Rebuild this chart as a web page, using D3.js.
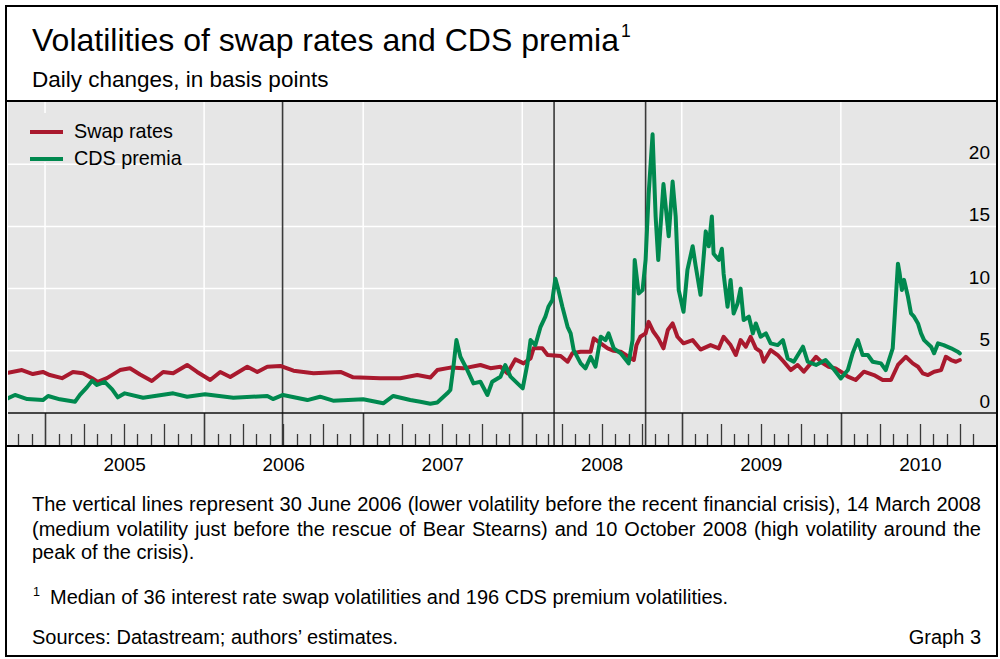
<!DOCTYPE html>
<html><head><meta charset="utf-8">
<script src="https://cdn.jsdelivr.net/npm/d3@7"></script>
<style>
body{margin:0;background:#fff}
svg{display:block}
text{font-family:"Liberation Sans",Arial,Helvetica,sans-serif;fill:#000}
</style>
</head><body>
<svg id="chart" width="1000" height="659"></svg>
<script>
// ---------------- DATA ----------------
const seriesNames = ["Swap rates", "CDS premia"];
const yTickValues = [0, 5, 10, 15, 20];
const yearLabels = [2005, 2006, 2007, 2008, 2009, 2010];
const eventDates = ["2006-06-30", "2008-03-14", "2008-10-10"];

const swapDates = ["2004-10-08","2004-11-09","2004-12-04","2004-12-27","2005-01-12","2005-02-09","2005-03-06","2005-03-29","2005-04-19","2005-05-02","2005-05-23","2005-06-22","2005-07-15","2005-08-07","2005-09-03","2005-09-29","2005-10-22","2005-11-23","2005-12-16","2006-01-15","2006-02-07","2006-03-02","2006-04-10","2006-05-03","2006-05-26","2006-06-25","2006-07-25","2006-09-09","2006-11-10","2006-12-09","2007-02-09","2007-03-27","2007-05-05","2007-06-04","2007-06-20","2007-07-20","2007-08-19","2007-09-27","2007-10-20","2007-11-12","2007-11-28","2007-12-16","2008-01-04","2008-01-20","2008-01-27","2008-02-16","2008-02-28","2008-03-29","2008-04-14","2008-04-25","2008-05-14","2008-06-06","2008-06-13","2008-06-29","2008-07-15","2008-07-29","2008-08-14","2008-09-06","2008-09-13","2008-09-19","2008-09-28","2008-10-10","2008-10-17","2008-10-28","2008-11-08","2008-11-20","2008-11-30","2008-12-11","2008-12-22","2009-01-05","2009-01-26","2009-02-13","2009-03-08","2009-03-27","2009-04-07","2009-04-23","2009-05-05","2009-05-16","2009-05-28","2009-06-08","2009-06-20","2009-07-01","2009-07-08","2009-07-24","2009-08-09","2009-08-23","2009-09-08","2009-09-24","2009-10-08","2009-10-24","2009-11-05","2009-11-21","2009-12-04","2009-12-20","2010-01-01","2010-01-17","2010-02-04","2010-02-23","2010-03-18","2010-04-07","2010-04-26","2010-05-12","2010-05-30","2010-06-15","2010-06-27","2010-07-08","2010-07-20","2010-08-03","2010-08-19","2010-08-30","2010-09-11","2010-09-22","2010-10-01"];
const swapValues = [3.24,3.45,3.13,3.3,3.05,2.8,3.3,3.2,2.8,2.5,2.8,3.45,3.6,3.1,2.57,3.3,3.2,3.86,3.3,2.65,3.3,2.9,3.72,3.3,3.72,3.78,3.4,3.2,3.3,2.87,2.8,2.8,3.05,2.85,3.45,3.65,3.59,3.86,3.6,3.72,3.19,4.31,3.99,4.39,5.2,5.2,4.66,4.58,4.12,4.8,4.93,4.93,6.0,5.6,5.2,5.0,4.93,4.4,4.26,5.46,6.13,6.4,7.33,6.53,6.0,5.2,6.67,7.2,6.13,5.6,5.86,5.1,5.46,5.2,6.13,5.46,4.66,5.86,5.33,6.13,5.2,4.93,4.12,5.06,4.66,4.12,3.45,3.86,3.32,3.99,4.52,3.99,3.72,3.59,3.32,2.92,2.65,3.32,3.05,2.65,2.65,3.86,4.52,3.99,3.72,3.19,3.05,3.32,3.45,4.52,4.26,4.12,4.26];

const cdsDates = ["2004-10-08","2004-10-24","2004-11-21","2004-12-27","2005-01-08","2005-02-04","2005-03-11","2005-03-22","2005-04-07","2005-04-19","2005-04-30","2005-05-18","2005-06-04","2005-06-17","2005-07-03","2005-08-14","2005-10-22","2005-11-23","2006-01-03","2006-03-09","2006-05-26","2006-06-08","2006-07-01","2006-08-26","2006-09-24","2006-10-24","2007-01-01","2007-02-16","2007-03-11","2007-04-19","2007-05-12","2007-06-04","2007-06-20","2007-07-13","2007-07-20","2007-07-27","2007-08-03","2007-08-12","2007-08-28","2007-09-11","2007-09-27","2007-10-13","2007-10-24","2007-11-12","2007-11-23","2007-12-05","2007-12-21","2008-01-02","2008-01-13","2008-01-20","2008-01-31","2008-02-12","2008-02-23","2008-03-01","2008-03-10","2008-03-17","2008-03-24","2008-04-02","2008-04-14","2008-04-21","2008-04-28","2008-05-14","2008-05-25","2008-06-06","2008-06-17","2008-06-29","2008-07-10","2008-07-17","2008-07-29","2008-08-14","2008-09-01","2008-09-10","2008-09-15","2008-09-24","2008-10-03","2008-10-10","2008-10-17","2008-10-26","2008-11-02","2008-11-08","2008-11-20","2008-12-02","2008-12-11","2008-12-18","2008-12-25","2009-01-05","2009-01-14","2009-01-26","2009-02-02","2009-02-13","2009-02-25","2009-03-04","2009-03-11","2009-03-15","2009-03-27","2009-04-03","2009-04-07","2009-04-16","2009-04-23","2009-04-30","2009-05-09","2009-05-16","2009-05-23","2009-06-04","2009-06-13","2009-06-20","2009-07-01","2009-07-13","2009-07-24","2009-08-09","2009-08-21","2009-09-01","2009-09-15","2009-10-06","2009-10-17","2009-11-05","2009-11-27","2009-12-14","2010-01-01","2010-01-17","2010-01-28","2010-02-09","2010-02-20","2010-03-04","2010-03-15","2010-04-03","2010-04-14","2010-04-30","2010-05-05","2010-05-12","2010-05-16","2010-05-21","2010-05-26","2010-06-04","2010-06-11","2010-06-18","2010-06-27","2010-07-04","2010-07-11","2010-07-27","2010-08-03","2010-08-12","2010-08-25","2010-09-11","2010-09-26","2010-10-01"];
const cdsValues = [1.18,1.45,1.12,1.04,1.37,1.1,0.91,1.45,2.06,2.6,2.25,2.5,1.9,1.26,1.58,1.23,1.58,1.31,1.5,1.23,1.37,1.12,1.45,1.04,1.31,0.99,1.1,0.78,1.37,1.04,0.91,0.75,0.85,1.58,1.85,3.72,5.86,4.52,3.45,2.38,2.51,1.45,2.51,2.92,3.86,2.92,2.38,1.98,3.99,5.86,5.46,6.93,7.74,8.54,9.08,10.8,9.88,8.54,6.93,6.4,5.06,3.99,3.59,4.52,3.72,6.13,5.86,6.4,5.2,4.8,3.99,5.86,12.3,9.6,9.88,12.3,17.6,22.4,15.8,12.3,18.4,14.2,18.6,15.8,9.88,8.14,11.5,13.4,11.8,9.5,14.6,13.4,15.8,12.8,12.3,13.2,11.2,8.54,10.7,8.0,8.8,10.0,7.47,7.74,6.4,7.2,6.13,6.4,5.6,5.46,5.86,4.39,4.12,5.33,4.12,3.86,4.26,3.59,2.78,3.45,4.8,5.86,4.66,4.66,4.12,3.99,3.45,5.2,8.0,12.0,11.2,9.88,10.7,9.34,8.0,7.74,7.2,6.4,5.86,5.33,4.8,5.6,5.46,5.2,4.93,4.8];

// ---------------- LAYOUT ----------------
const parse = d3.timeParse("%Y-%m-%d");
const svg = d3.select("#chart");
const W = 1000, H = 659;
const plotL = 8, plotR = 996, plotT = 102, axisY = 413, plotB = 446;
const colSwap = "#a9192e", colCds = "#00894f", bg = "#e6e6e6";

const x = d3.scaleTime().domain([parse("2004-10-08"), parse("2010-12-23")]).range([plotL, plotR]);
const y = d3.scaleLinear().domain([0, 25]).range([axisY, plotT]);

svg.append("rect").attr("width", W).attr("height", H).attr("fill", "#fff");
svg.append("rect").attr("x", plotL).attr("y", plotT).attr("width", plotR - plotL).attr("height", plotB - plotT).attr("fill", bg);

// horizontal grid
svg.append("g").selectAll("line").data(yTickValues.filter(d => d > 0)).join("line")
  .attr("x1", plotL).attr("x2", plotR).attr("y1", d => y(d)).attr("y2", d => y(d))
  .attr("stroke", "#fff").attr("stroke-width", 1.5);

// vertical grid at year starts
const yearStarts = yearLabels.map(yr => new Date(yr, 0, 1));
svg.append("g").selectAll("line").data(yearStarts).join("line")
  .attr("x1", d => x(d)).attr("x2", d => x(d)).attr("y1", plotT).attr("y2", axisY)
  .attr("stroke", "#fff").attr("stroke-width", 1.5);

// legend background
svg.append("rect").attr("x", plotL).attr("y", 113).attr("width", 185).attr("height", 49).attr("fill", bg);

// month ticks
const months = d3.timeMonth.range(new Date(2004, 10, 1), new Date(2010, 10, 2));
svg.append("g").selectAll("line").data(months).join("line")
  .attr("x1", d => Math.round(x(d)) + 0.5).attr("x2", d => Math.round(x(d)) + 0.5)
  .attr("y1", d => d.getMonth() === 0 ? axisY : (d.getMonth() % 3 === 0 ? 424 : 434))
  .attr("y2", plotB)
  .attr("stroke", "#3a3a3a").attr("stroke-width", d => d.getMonth() === 0 ? 1.6 : 1.3);

// event lines
svg.append("g").selectAll("line").data(eventDates.map(parse)).join("line")
  .attr("x1", d => x(d)).attr("x2", d => x(d)).attr("y1", plotT).attr("y2", plotB)
  .attr("stroke", "#3a3a3a").attr("stroke-width", 1.6);

// axis line
svg.append("line").attr("x1", plotL).attr("x2", plotR).attr("y1", axisY).attr("y2", axisY)
  .attr("stroke", "#111").attr("stroke-width", 1.6);

// clip
svg.append("clipPath").attr("id", "clip").append("rect")
  .attr("x", plotL).attr("y", plotT).attr("width", plotR - plotL).attr("height", axisY - plotT);

const line = d3.line().x(d => x(d[0])).y(d => y(d[1]));
const swapData = swapDates.map((d, i) => [parse(d), swapValues[i]]);
const cdsData = cdsDates.map((d, i) => [parse(d), cdsValues[i]]);
const lg = svg.append("g").attr("clip-path", "url(#clip)");
lg.append("path").datum(swapData).attr("d", line).attr("fill", "none")
  .attr("stroke", colSwap).attr("stroke-width", 4).attr("stroke-linejoin", "round").attr("stroke-linecap", "round");
lg.append("path").datum(cdsData).attr("d", line).attr("fill", "none")
  .attr("stroke", colCds).attr("stroke-width", 4).attr("stroke-linejoin", "round").attr("stroke-linecap", "round");

// legend
const legend = svg.append("g");
[[colSwap, 132, 138], [colCds, 159, 165]].forEach((c, i) => {
  legend.append("line").attr("x1", 30).attr("x2", 63).attr("y1", c[1]).attr("y2", c[1])
    .attr("stroke", c[0]).attr("stroke-width", 4);
  legend.append("text").attr("x", 74).attr("y", c[2]).attr("font-size", 19.8).text(seriesNames[i]);
});

// y labels (right)
svg.append("g").selectAll("text").data(yTickValues).join("text")
  .attr("x", 990).attr("y", d => y(d) - 5).attr("text-anchor", "end").attr("font-size", 19)
  .text(d => d);

// year labels
svg.append("g").selectAll("text").data(yearLabels).join("text")
  .attr("x", yr => (x(new Date(yr, 0, 1)) + x(new Date(yr + 1, 0, 1))) / 2)
  .attr("y", 471).attr("text-anchor", "middle").attr("font-size", 19).text(d => d);

// frame
svg.append("rect").attr("x", 6).attr("y", 6).attr("width", 991).attr("height", 650)
  .attr("fill", "none").attr("stroke", "#000").attr("stroke-width", 2);
svg.append("line").attr("x1", 6).attr("x2", 997).attr("y1", 101).attr("y2", 101).attr("stroke", "#000").attr("stroke-width", 2);
svg.append("line").attr("x1", 6).attr("x2", 997).attr("y1", plotB).attr("y2", plotB).attr("stroke", "#000").attr("stroke-width", 2);

// title
const title = svg.append("text").attr("x", 32).attr("y", 51).attr("font-size", 32)
  .text("Volatilities of swap rates and CDS premia");
const tw = title.node().getComputedTextLength();
svg.append("text").attr("x", 32 + tw + 2).attr("y", 37).attr("font-size", 17.5).text("1");
svg.append("text").attr("x", 32).attr("y", 87).attr("font-size", 22.5).text("Daily changes, in basis points");

// footer
function justifyLine(str, x0, x1, yb, size) {
  const words = str.split(" ");
  const widths = words.map(w => {
    const t = svg.append("text").attr("font-size", size).text(w);
    const wd = t.node().getComputedTextLength(); t.remove(); return wd;
  });
  const gap = (x1 - x0 - d3.sum(widths)) / (words.length - 1);
  let cx = x0;
  words.forEach((w, i) => {
    svg.append("text").attr("x", cx).attr("y", yb).attr("font-size", size).text(w);
    cx += widths[i] + gap;
  });
}
const fs = 20;
justifyLine("The vertical lines represent 30 June 2006 (lower volatility before the recent financial crisis), 14 March 2008", 32, 981, 511, fs);
justifyLine("(medium volatility just before the rescue of Bear Stearns) and 10 October 2008 (high volatility around the", 32, 981, 536, fs);
svg.append("text").attr("x", 32).attr("y", 559).attr("font-size", fs).text("peak of the crisis).");
svg.append("text").attr("x", 33).attr("y", 596).attr("font-size", 12.5).text("1");
svg.append("text").attr("x", 50).attr("y", 604).attr("font-size", fs).text("Median of 36 interest rate swap volatilities and 196 CDS premium volatilities.");
svg.append("text").attr("x", 32).attr("y", 644).attr("font-size", fs).text("Sources: Datastream; authors\u2019 estimates.");
svg.append("text").attr("x", 981).attr("y", 644).attr("text-anchor", "end").attr("font-size", fs).text("Graph 3");
</script>
</body></html>
